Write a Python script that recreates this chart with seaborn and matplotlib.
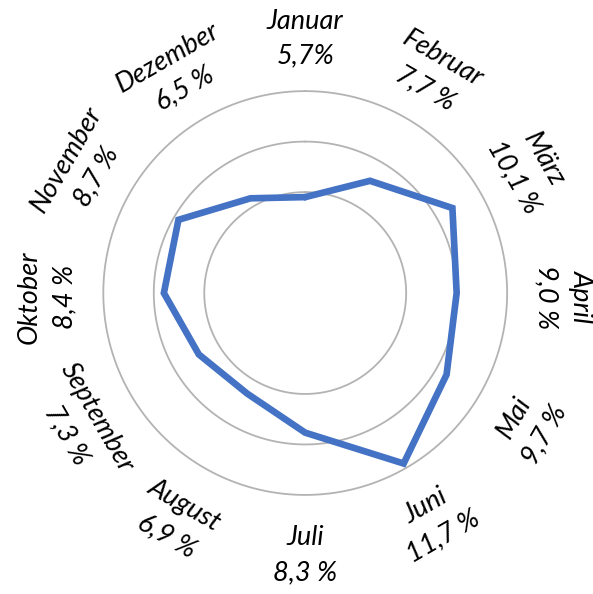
import numpy as np
import pandas as pd
import matplotlib.pyplot as plt
import matplotlib.transforms as mtransforms
import seaborn as sns

# Data
months = ['Januar', 'Februar', 'März', 'April', 'Mai', 'Juni',
          'Juli', 'August', 'September', 'Oktober', 'November', 'Dezember']
share = [5.7, 7.7, 10.1, 9.0, 9.7, 11.7, 8.3, 6.9, 7.3, 8.4, 8.7, 6.5]
share_labels = ['5,7%', '7,7 %', '10,1 %', '9,0 %', '9,7 %', '11,7 %',
                '8,3 %', '6,9 %', '7,3 %', '8,4 %', '8,7 %', '6,5 %']
rings = [6, 9, 12]

sns.set_style('white')
plt.rcParams['font.family'] = ['Lato', 'DejaVu Sans']

# closed polygon (last point at 2*pi so it doesn't merge with the first)
angles = np.arange(len(months)) * 2 * np.pi / len(months)
df = pd.DataFrame({'theta': np.append(angles, 2 * np.pi),
                   'r': share + [share[0]]})

fig = plt.figure(figsize=(5.93, 5.94), dpi=100)
ax = fig.add_axes([0.1742, 0.1667, 0.681, 0.680], projection='polar')
ax.set_theta_zero_location('N')
ax.set_theta_direction(-1)

sns.lineplot(data=df, x='theta', y='r', sort=False, estimator=None, ax=ax,
             color='#4472C4', linewidth=4.8, legend=False)
ax.lines[-1].set_solid_joinstyle('miter')

ax.set_ylim(0, 12)
ax.set_yticks(rings)
ax.set_yticklabels([])
ax.set_xticks([])
ax.grid(False)
ax.spines['polar'].set_visible(False)
tt = np.linspace(0, 2 * np.pi, 400)
for rv in rings:
    ax.plot(tt, [rv] * len(tt), color='#b3b3b3', linewidth=1.3, zorder=1,
            clip_on=False)
ax.set_xlabel('')
ax.set_ylabel('')

# month labels around the circle, tangential
shift = ax.transData + mtransforms.ScaledTranslation(0, -4 / 100, fig.dpi_scale_trans)
for a, m, lab in zip(angles, months, share_labels):
    deg = np.degrees(a)
    rot = -deg
    while rot <= -90:
        rot += 180
    while rot > 90:
        rot -= 180
    if deg == 90:
        rot = -90
    ax.text(a, 15.35, f'{m}\n{lab}', rotation=rot, rotation_mode='anchor',
            ha='center', va='center', multialignment='center',
            fontsize=19.5, fontstyle='italic', linespacing=1.5,
            color='black', clip_on=False, transform=shift)

fig.savefig('out.png', dpi=100)
